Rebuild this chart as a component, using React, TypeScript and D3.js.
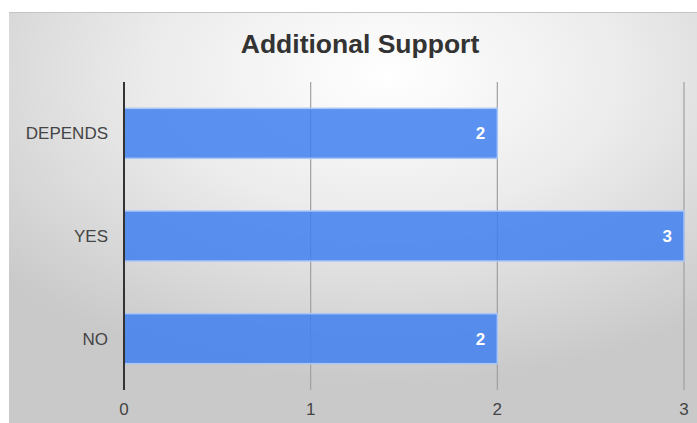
import React from "react";
import * as d3 from "d3";

const categories = ["DEPENDS", "YES", "NO"];
const values = [2, 3, 2];
const xTicks = [0, 1, 2, 3];
const title = "Additional Support";

const W = 697;
const H = 423;

export default function App() {
  const x = d3.scaleLinear().domain([0, 3]).range([124, 684]);
  const y = d3
    .scaleBand<string>()
    .domain(categories)
    .range([82, 390])
    .paddingInner(0.513)
    .paddingOuter(0.2565);
  const font = "'Liberation Sans', Arial, sans-serif";
  return (
    <svg
      width={W}
      height={H}
      style={{ position: "absolute", left: 0, top: 0 }}
      fontFamily={font}
    >
      <defs>
        <radialGradient id="bg" cx="0.55" cy="0.15" r="0.75" fx="0.55" fy="0.15">
          <stop offset="0" stopColor="#ffffff" />
          <stop offset="0.45" stopColor="#ececec" />
          <stop offset="1" stopColor="#c9c9c9" />
        </radialGradient>
      </defs>
      <rect x={0} y={0} width={W} height={H} fill="#ffffff" />
      <rect x={9} y={12} width={W - 9} height={H - 12} fill="url(#bg)" />
      <line x1={9} x2={W} y1={12.5} y2={12.5} stroke="#c4c4c4" strokeWidth={1} />
      <text
        x={360}
        y={53}
        textAnchor="middle"
        fontSize={26.5}
        fontWeight="bold"
        fill="#333333"
      >
        {title}
      </text>
      {xTicks.slice(1).map((t) => (
        <line
          key={t}
          x1={x(t)}
          x2={x(t)}
          y1={82}
          y2={390}
          stroke="#a0a0a0"
          strokeWidth={1.2}
        />
      ))}
      {categories.map((c, i) => (
        <g key={c}>
          <rect
            x={x(0)}
            y={y(c)!}
            width={x(values[i]) - x(0)}
            height={y.bandwidth()}
            fill="#3f7ff0"
            fillOpacity={0.85}
            stroke="#a9c6f7"
            strokeWidth={1.5}
          />
          <text
            x={x(values[i]) - 12}
            y={y(c)! + y.bandwidth() / 2}
            dy="0.36em"
            textAnchor="end"
            fontSize={17}
            fontWeight="bold"
            fill="#ffffff"
          >
            {values[i]}
          </text>
          <text
            x={108}
            y={y(c)! + y.bandwidth() / 2}
            dy="0.36em"
            textAnchor="end"
            fontSize={17}
            fill="#444444"
          >
            {c}
          </text>
        </g>
      ))}
      <line x1={124} x2={124} y1={82} y2={390} stroke="#333333" strokeWidth={2} />
      {xTicks.map((t) => (
        <text
          key={t}
          x={x(t)}
          y={409}
          dy="0.36em"
          textAnchor="middle"
          fontSize={17}
          fill="#444444"
        >
          {t}
        </text>
      ))}
    </svg>
  );
}
